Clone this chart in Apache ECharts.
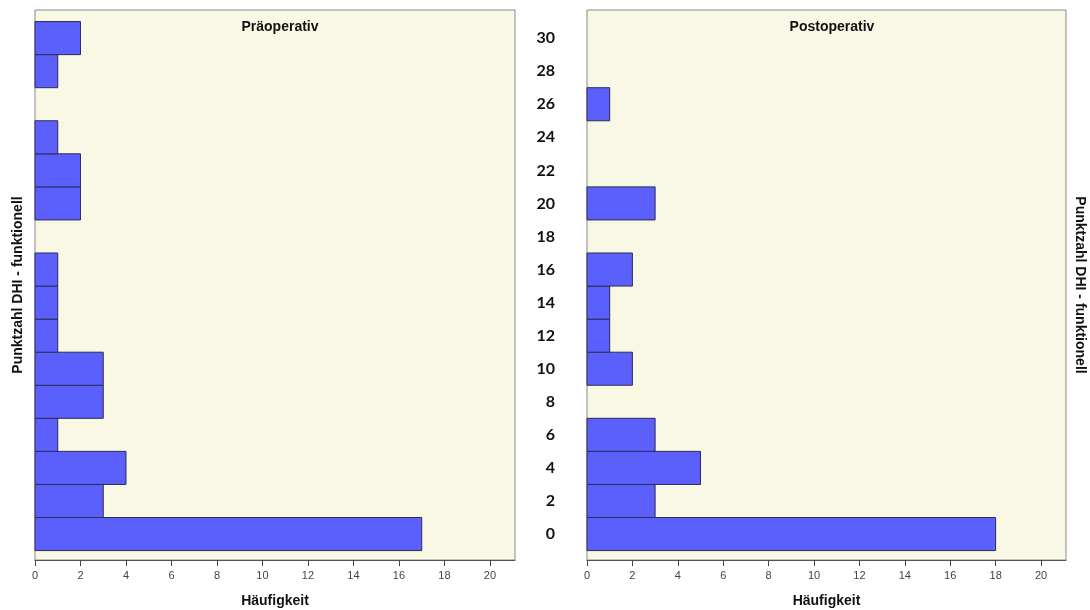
<!DOCTYPE html>
<html><head><meta charset="utf-8">
<script src="https://cdn.jsdelivr.net/npm/echarts@6/dist/echarts.min.js"></script>
<style>html,body{margin:0;padding:0;background:#fff}#c{width:1090px;height:610px}</style>
</head><body><div id="c"></div>
<script>
var scoreBins = [0,2,4,6,8,10,12,14,16,18,20,22,24,26,28,30];
var preCounts = [17,3,4,1,3,3,1,1,1,0,2,2,1,0,1,2];
var postCounts = [18,3,5,3,0,2,1,1,2,0,3,0,0,1,0,0];
var xTicks = [0,2,4,6,8,10,12,14,16,18,20];
var yLabels = [0,2,4,6,8,10,12,14,16,18,20,22,24,26,28,30];
var titles = ['Präoperativ','Postoperativ'];
var yName = 'Punktzahl DHI - funktionell';
var xName = 'Häufigkeit';

function pairs(counts){
  var out=[];
  for(var i=0;i<scoreBins.length;i++){ if(counts[i]>0) out.push([counts[i], scoreBins[i]]); }
  return out;
}
function renderBar(params, api){
  var c=api.value(0), v=api.value(1);
  var p1=api.coord([0, v+1]);
  var p2=api.coord([c, v-1]);
  return {type:'rect', shape:{x:p1[0], y:p1[1], width:p2[0]-p1[0], height:p2[1]-p1[1]},
    style:{fill:'#5b5ffb', stroke:'#2c2c55', lineWidth:1}};
}
var sansFont = '"Liberation Sans", Arial, sans-serif';
function xAxis(idx){
  return {gridIndex:idx, type:'value', min:0, max:21.1, interval:2,
    axisLine:{show:true, onZero:false, lineStyle:{color:'#555'}},
    axisTick:{show:true, length:6, lineStyle:{color:'#444'}},
    axisLabel:{color:'#444', fontSize:11, fontFamily:sansFont, margin:10, showMaxLabel:false,
      formatter:function(v){return xTicks.indexOf(v)>=0 ? String(v) : '';}},
    splitLine:{show:false},
    name:xName, nameLocation:'middle', nameGap:34,
    nameTextStyle:{fontFamily:sansFont, fontWeight:'bold', fontSize:14, color:'#111'}};
}
function yAxis(idx, showLabels){
  return {gridIndex:idx, type:'value', min:-1.57, max:31.7,
    axisLine:{show:false, onZero:false}, axisTick:{show:false}, splitLine:{show:false},
    axisLabel:{show:showLabels, customValues:yLabels, color:'#111', fontSize:16,
      fontWeight:'bold', fontFamily:'Lato, "Open Sans", sans-serif', margin:32, padding:[0,0,4,0]}};
}
var chart = echarts.init(document.getElementById('c'), null, {renderer:'canvas'});
chart.setOption({
  animation:false,
  backgroundColor:'#ffffff',
  title:[
    {text:titles[0], left:275, top:15, textAlign:'center',
      textStyle:{fontFamily:sansFont, fontWeight:'bold', fontSize:14, color:'#111'}},
    {text:titles[1], left:827, top:15, textAlign:'center',
      textStyle:{fontFamily:sansFont, fontWeight:'bold', fontSize:14, color:'#111'}}
  ],
  grid:[
    {left:35, top:10, width:480, height:550, show:true, outerBoundsMode:'none', containLabel:false, backgroundColor:'#f9f8e4', borderColor:'#8a8a8a', borderWidth:1},
    {left:587, top:10, width:479, height:550, show:true, outerBoundsMode:'none', containLabel:false, backgroundColor:'#f9f8e4', borderColor:'#8a8a8a', borderWidth:1}
  ],
  xAxis:[xAxis(0), xAxis(1)],
  yAxis:[yAxis(0,false), yAxis(1,true)],
  series:[
    {type:'custom', xAxisIndex:0, yAxisIndex:0, data:pairs(preCounts), renderItem:renderBar, encode:{x:0,y:1}},
    {type:'custom', xAxisIndex:1, yAxisIndex:1, data:pairs(postCounts), renderItem:renderBar, encode:{x:0,y:1}}
  ],
  graphic:[
    {type:'text', x:18, y:285, rotation:Math.PI/2,
      style:{text:yName, fontFamily:sansFont, fontWeight:'bold', fontSize:14, fill:'#111', align:'center', verticalAlign:'middle'}},
    {type:'text', x:1080, y:285, rotation:-Math.PI/2,
      style:{text:yName, fontFamily:sansFont, fontWeight:'bold', fontSize:14, fill:'#111', align:'center', verticalAlign:'middle'}}
  ]
});
</script></body></html>
